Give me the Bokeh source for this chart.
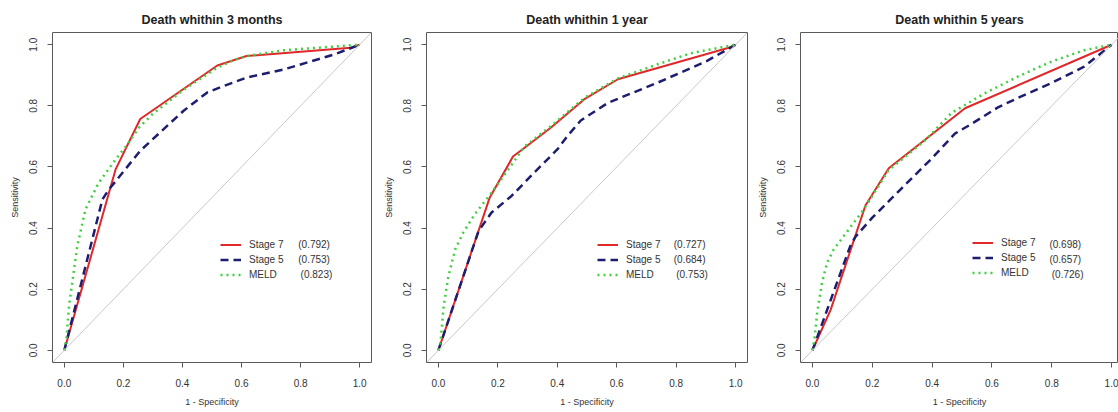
from bokeh.plotting import figure
from bokeh.layouts import row
from bokeh.models import Legend, LegendItem, Label, Slope, FixedTicker, Range1d
from bokeh.embed import file_html
from bokeh.resources import INLINE

# ---------------- data ----------------
titles = ["Death whithin 3 months", "Death whithin 1 year", "Death whithin 5 years"]
series_names = ["Stage 7", "Stage 5", "MELD"]
auc_3m = ["(0.792)", "(0.753)", "(0.823)"]
auc_1y = ["(0.727)", "(0.684)", "(0.753)"]
auc_5y = ["(0.698)", "(0.657)", "(0.726)"]
tick_values = [0.0, 0.2, 0.4, 0.6, 0.8, 1.0]
tick_labels = ["0.0", "0.2", "0.4", "0.6", "0.8", "1.0"]

# Death within 3 months
m3_stage7_x = [0.0, 0.174, 0.257, 0.518, 0.617, 0.97, 1.0]
m3_stage7_y = [0.0, 0.593, 0.757, 0.932, 0.963, 0.99, 1.0]
m3_stage5_x = [0.0, 0.129, 0.150, 0.258, 0.404, 0.484, 0.529, 0.619, 0.743, 0.913, 1.0]
m3_stage5_y = [0.0, 0.494, 0.525, 0.654, 0.784, 0.844, 0.861, 0.893, 0.919, 0.968, 1.0]
m3_meld_x = [0.0, 0.007, 0.016, 0.027, 0.044, 0.072, 0.117, 0.174, 0.214, 0.253, 0.298, 0.40, 0.518, 0.574, 0.619, 0.743, 0.857, 1.0]
m3_meld_y = [0.0, 0.037, 0.146, 0.222, 0.342, 0.462, 0.549, 0.625, 0.674, 0.729, 0.772, 0.85, 0.925, 0.95, 0.963, 0.982, 0.99, 1.0]

# Death within 1 year
y1_stage7_x = [0.0, 0.172, 0.251, 0.29, 0.379, 0.49, 0.604, 0.977, 1.0]
y1_stage7_y = [0.0, 0.498, 0.634, 0.663, 0.729, 0.821, 0.887, 0.99, 1.0]
y1_stage5_x = [0.0, 0.135, 0.179, 0.246, 0.323, 0.401, 0.434, 0.479, 0.571, 0.738, 0.904, 1.0]
y1_stage5_y = [0.0, 0.39, 0.451, 0.505, 0.582, 0.658, 0.701, 0.752, 0.81, 0.876, 0.947, 1.0]
y1_meld_x = [0.0, 0.007, 0.018, 0.034, 0.057, 0.084, 0.123, 0.179, 0.212, 0.29, 0.38, 0.49, 0.604, 0.738, 0.849, 0.96, 1.0]
y1_meld_y = [0.0, 0.026, 0.146, 0.244, 0.331, 0.386, 0.446, 0.516, 0.56, 0.667, 0.735, 0.825, 0.89, 0.936, 0.972, 0.993, 1.0]

# Death within 5 years
y5_stage7_x = [0.0, 0.061, 0.138, 0.177, 0.255, 0.51, 1.0]
y5_stage7_y = [0.0, 0.133, 0.359, 0.474, 0.596, 0.792, 1.0]
y5_stage5_x = [0.0, 0.126, 0.144, 0.2, 0.299, 0.399, 0.476, 0.532, 0.62, 0.687, 0.797, 0.908, 1.0]
y5_stage5_y = [0.0, 0.34, 0.372, 0.434, 0.531, 0.628, 0.709, 0.741, 0.795, 0.826, 0.874, 0.928, 1.0]
y5_meld_x = [0.0, 0.007, 0.016, 0.032, 0.049, 0.071, 0.104, 0.137, 0.17, 0.198, 0.255, 0.30, 0.38, 0.465, 0.576, 0.687, 0.797, 0.908, 1.0]
y5_meld_y = [0.0, 0.039, 0.125, 0.222, 0.287, 0.33, 0.373, 0.416, 0.459, 0.502, 0.59, 0.625, 0.69, 0.777, 0.841, 0.896, 0.944, 0.982, 1.0]

# ---------------- style ----------------
FONT = "Liberation Sans"
TXT = "#333333"
BOX = "#5a5a5a"
RED = "#e0282a"
BLUE = "#1e1e70"
GREEN = "#3fcf3f"

def make_panel(title, curves, aucs, width, border_left, border_right, border_top,
               frame_h, x_end, legend_loc):
    height = 412
    p = figure(width=width, height=height, output_backend="svg", toolbar_location=None,
               x_range=Range1d(-0.04, x_end), y_range=Range1d(-0.04, 1.04),
               min_border_left=border_left, min_border_right=border_right,
               min_border_top=border_top, min_border_bottom=height - border_top - frame_h,
               title=title)
    p.title.text_font = FONT
    p.title.text_font_size = "12.5px"
    p.title.text_font_style = "bold"
    p.title.text_color = "#222222"
    p.title.align = "center"
    p.title.standoff = 12
    p.background_fill_color = "white"
    p.border_fill_color = "white"
    p.outline_line_color = BOX
    p.outline_line_width = 1
    p.grid.visible = False

    for ax in (p.xaxis[0], p.yaxis[0]):
        ax.ticker = FixedTicker(ticks=tick_values)
        ax.major_label_overrides = {v: s for v, s in zip(tick_values, tick_labels)}
        ax.axis_line_color = None
        ax.major_tick_line_color = BOX
        ax.major_tick_out = 5
        ax.major_tick_in = 0
        ax.minor_tick_line_color = None
        ax.major_label_text_font = FONT
        ax.major_label_text_font_size = "10px"
        ax.major_label_text_color = TXT
        ax.axis_label_text_font = FONT
        ax.axis_label_text_font_size = "9px"
        ax.axis_label_text_font_style = "normal"
        ax.axis_label_text_color = TXT
        ax.axis_label_standoff = 7
    p.xaxis.major_label_standoff = 11
    p.yaxis.major_label_standoff = 10
    p.xaxis.axis_label = "1 - Specificity"
    p.yaxis.axis_label = "Sensitivity"
    p.yaxis.major_label_orientation = "vertical"

    p.add_layout(Slope(gradient=1, y_intercept=0, line_color="#c8c8c8", line_width=1))

    (s7x, s7y), (s5x, s5y), (mx, my) = curves
    r7 = p.line(s7x, s7y, line_color=RED, line_width=2)
    r5 = p.line(s5x, s5y, line_color=BLUE, line_width=2.5, line_dash="8 5")
    rm = p.line(mx, my, line_color=GREEN, line_width=2.5, line_dash="2 4")

    legend = Legend(items=[LegendItem(label=series_names[0], renderers=[r7]),
                           LegendItem(label=series_names[1], renderers=[r5]),
                           LegendItem(label=series_names[2], renderers=[rm])],
                    location=legend_loc, padding=0, spacing=0, margin=0,
                    label_height=15, glyph_height=15, glyph_width=21, label_standoff=8,
                    border_line_color=None, background_fill_alpha=0,
                    label_text_font=FONT, label_text_font_size="10px",
                    label_text_color=TXT)
    p.add_layout(legend, "center")

    for i, (txt, yy) in enumerate(zip(aucs, [0.347, 0.298, 0.249])):
        xx = 0.792 if i < 2 else 0.80
        p.add_layout(Label(x=xx, y=yy, text=txt, text_font=FONT, text_font_size="10px",
                           text_color=TXT, text_baseline="middle", text_align="left"))
    return p

p1 = make_panel(titles[0], [(m3_stage7_x, m3_stage7_y), (m3_stage5_x, m3_stage5_y), (m3_meld_x, m3_meld_y)],
                auc_3m, 380, 52, 9, 32, 330, 1.04, (168, 80.5))
p2 = make_panel(titles[1], [(y1_stage7_x, y1_stage7_y), (y1_stage5_x, y1_stage5_y), (y1_meld_x, y1_meld_y)],
                auc_1y, 374, 44, 7, 32, 330, 1.04, (171, 80.5))
p3 = make_panel(titles[2], [(y5_stage7_x, y5_stage7_y), (y5_stage5_x, y5_stage5_y), (y5_meld_x, y5_meld_y)],
                auc_5y, 364, 44, 0, 29, 334, 1.023, (172, 81.8))

layout = row(p1, p2, p3, spacing=0)
open("out.html", "w").write(file_html(layout, INLINE))
